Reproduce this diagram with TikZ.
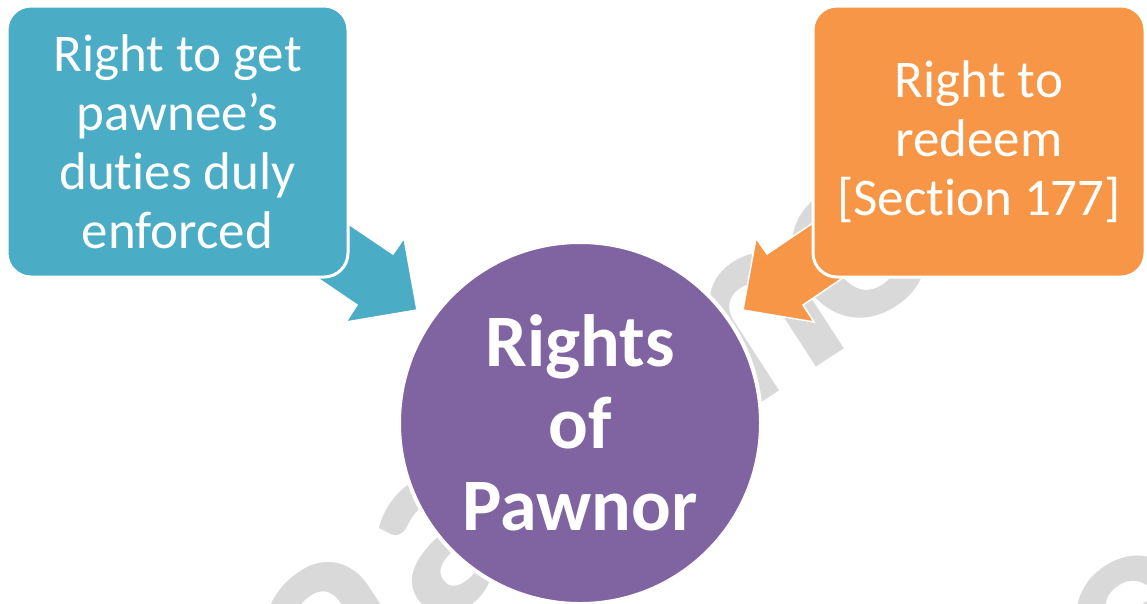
\documentclass[tikz,border=0pt]{standalone}
\usepackage{fontspec}
\setmainfont{Carlito}[Ligatures={NoCommon}]
\definecolor{boxteal}{HTML}{4BACC6}
\definecolor{boxorange}{HTML}{F79646}
\definecolor{circpurple}{HTML}{8064A2}
\definecolor{wmgray}{HTML}{D9D9D9}
\tikzset{
  sidebox/.style={rectangle, rounded corners=24pt, draw=white, line width=3pt,
    text=white, align=center, inner sep=0pt,
    font={\fontsize{53}{59}\selectfont}},
  hub/.style={circle, fill=circpurple, draw=white, line width=4pt, text=white,
    align=center, inner sep=0pt, minimum size=362pt,
    font={\fontsize{74}{82}\selectfont\bfseries}},
  blockarrow/.style={draw=white, line width=1.5pt, line join=miter},
  wmark/.style={text=wmgray, inner sep=0pt, rotate=33,
    font={\fontsize{270}{270}\selectfont\bfseries}}
}
\begin{document}
\begin{tikzpicture}[x=1pt,y=-1pt]
\useasboundingbox[fill=white] (0,0) rectangle (1147,603);
% watermark (partly hidden)
\node[wmark] (wa1) at (335,630) {a};
\node[wmark] (wa2) at (448,540) {a};
\node[wmark] (wm) at (728,345) {m};
\node[wmark] (wo) at (860,250) {o};
\node[wmark] (we) at (1140,625) {e};
% block arrows
\fill[boxteal, blockarrow] (313,200) -- (393,254) -- (404,238) -- (417,310)
  -- (346,322) -- (357,305) -- (285,256) -- cycle;
\fill[boxorange, blockarrow] (847,200) -- (767,254) -- (756,238) -- (743,310)
  -- (814,322) -- (803,305) -- (875,256) -- cycle;
% boxes
\node[sidebox, fill=boxteal, minimum width=341pt, minimum height=271pt]
  (duties) at (177.5,141.5) {Right to get\\pawnee’s\\duties duly\\enforced};
\node[sidebox, fill=boxorange, minimum width=332pt, minimum height=271pt]
  (redeem) at (979,141.5) {Right to\\redeem\\{[}Section 177{]}};
% hub
\node[hub] (hub) at (580,423) {Rights\\of\\Pawnor};
\end{tikzpicture}
\end{document}
